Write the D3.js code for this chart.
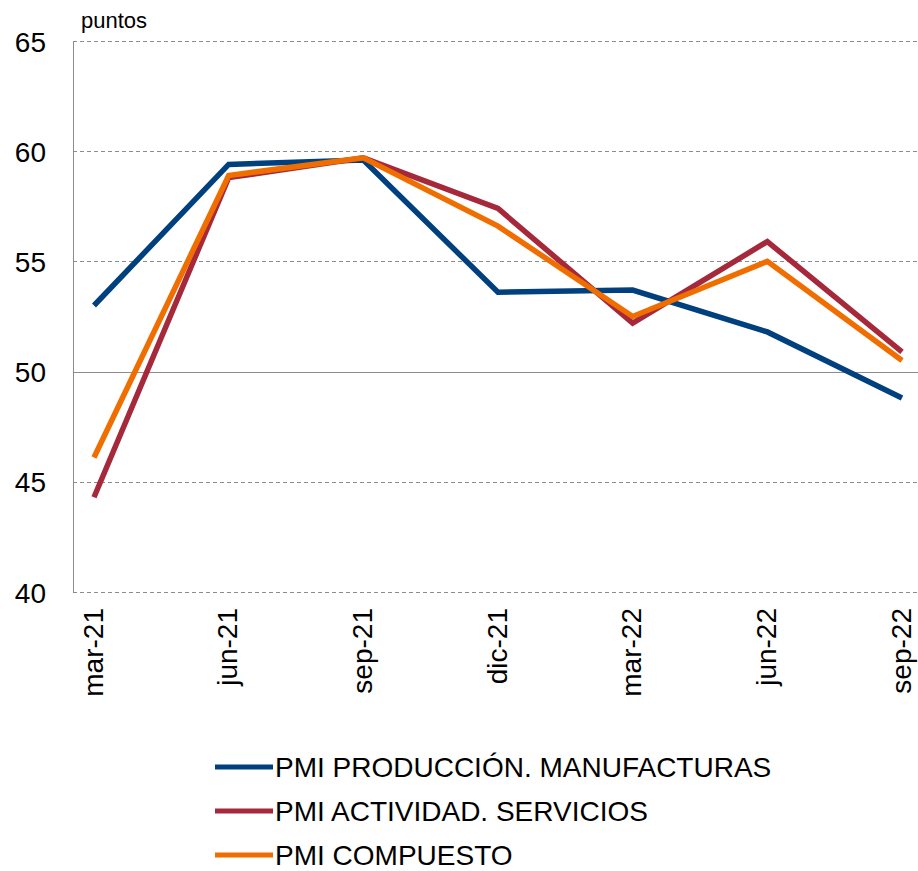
<!DOCTYPE html>
<html><head><meta charset="utf-8">
<script src="https://cdn.jsdelivr.net/npm/d3@7"></script>
<style>body{margin:0;background:#fff}svg{display:block}text{font-family:"Liberation Sans",Arial,sans-serif;fill:#000}</style>
</head><body>
<script>
const categories = ["mar-21","jun-21","sep-21","dic-21","mar-22","jun-22","sep-22"];
const manufacturas = [53.0, 59.4, 59.6, 53.6, 53.7, 51.8, 48.8];
const servicios    = [44.3, 58.8, 59.7, 57.4, 52.2, 55.9, 50.9];
const compuesto    = [46.1, 58.9, 59.7, 56.6, 52.5, 55.0, 50.5];
const seriesNames = ["PMI PRODUCCIÓN. MANUFACTURAS","PMI ACTIVIDAD. SERVICIOS","PMI COMPUESTO"];
const seriesColors = ["#00407f","#a5283b","#f06e00"];
const yTicks = [40,45,50,55,60,65];
const unitLabel = "puntos";

(function(){
const W=918,H=871;
const svg=d3.select("body").append("svg").attr("width",W).attr("height",H);
const pl=73,pr=918,pt=41,pb=592;
const x=d3.scalePoint().domain(categories).range([94,902]);
const y=d3.scaleLinear().domain([40,65]).range([pb,pt]);

// gridlines
svg.append("g").selectAll("line").data(yTicks).join("line")
  .attr("x1",pl).attr("x2",pr)
  .attr("y1",d=>Math.round(y(d))+0.5).attr("y2",d=>Math.round(y(d))+0.5)
  .attr("stroke","#8c8c8c").attr("stroke-width",1)
  .attr("stroke-dasharray",d=>d===50?null:"4,3");
// y axis line
svg.append("line").attr("x1",pl+0.5).attr("x2",pl+0.5).attr("y1",pt).attr("y2",pb)
  .attr("stroke","#8c8c8c").attr("stroke-width",1);
// y tick labels
const yAxis=d3.axisLeft(y).tickValues(yTicks).tickSize(0).tickPadding(0);
const ga=svg.append("g").attr("transform",`translate(46,0)`).call(yAxis);
ga.select(".domain").remove();
ga.selectAll("text").attr("font-size",28).attr("font-family","'Liberation Sans',Arial,sans-serif").attr("fill","#111").attr("dy","0.36em");
// unit label
svg.append("text").attr("x",81).attr("y",28).attr("font-size",22).attr("fill","#111").text(unitLabel);
// x labels
const xAxis=d3.axisBottom(x).tickSize(0).tickPadding(0);
const gx=svg.append("g").attr("transform",`translate(0,608)`).call(xAxis);
gx.select(".domain").remove();
gx.selectAll("text").attr("font-size",28).attr("font-family","'Liberation Sans',Arial,sans-serif").attr("fill","#111")
  .attr("text-anchor","end").attr("dy",null).attr("y",0).attr("x",0)
  .attr("transform","translate(8,0) rotate(-90)");

// lines
const data=[manufacturas,servicios,compuesto];
const line=d3.line().x((d,i)=>x(categories[i])).y(d=>y(d));
svg.append("g").selectAll("path").data(data).join("path")
  .attr("d",line).attr("fill","none").attr("stroke",(d,i)=>seriesColors[i])
  .attr("stroke-width",5.5).attr("stroke-linejoin","miter");

// legend
const legY=[767,811,855];
const lg=svg.append("g").selectAll("g").data(seriesNames).join("g")
  .attr("transform",(d,i)=>`translate(215,${legY[i]})`);
lg.append("line").attr("x1",0).attr("x2",58).attr("y1",0).attr("y2",0)
  .attr("stroke",(d,i)=>seriesColors[i]).attr("stroke-width",5);
lg.append("text").attr("x",60).attr("y",10).attr("font-size",28).attr("fill","#111").text(d=>d);
})();
</script>
</body></html>
